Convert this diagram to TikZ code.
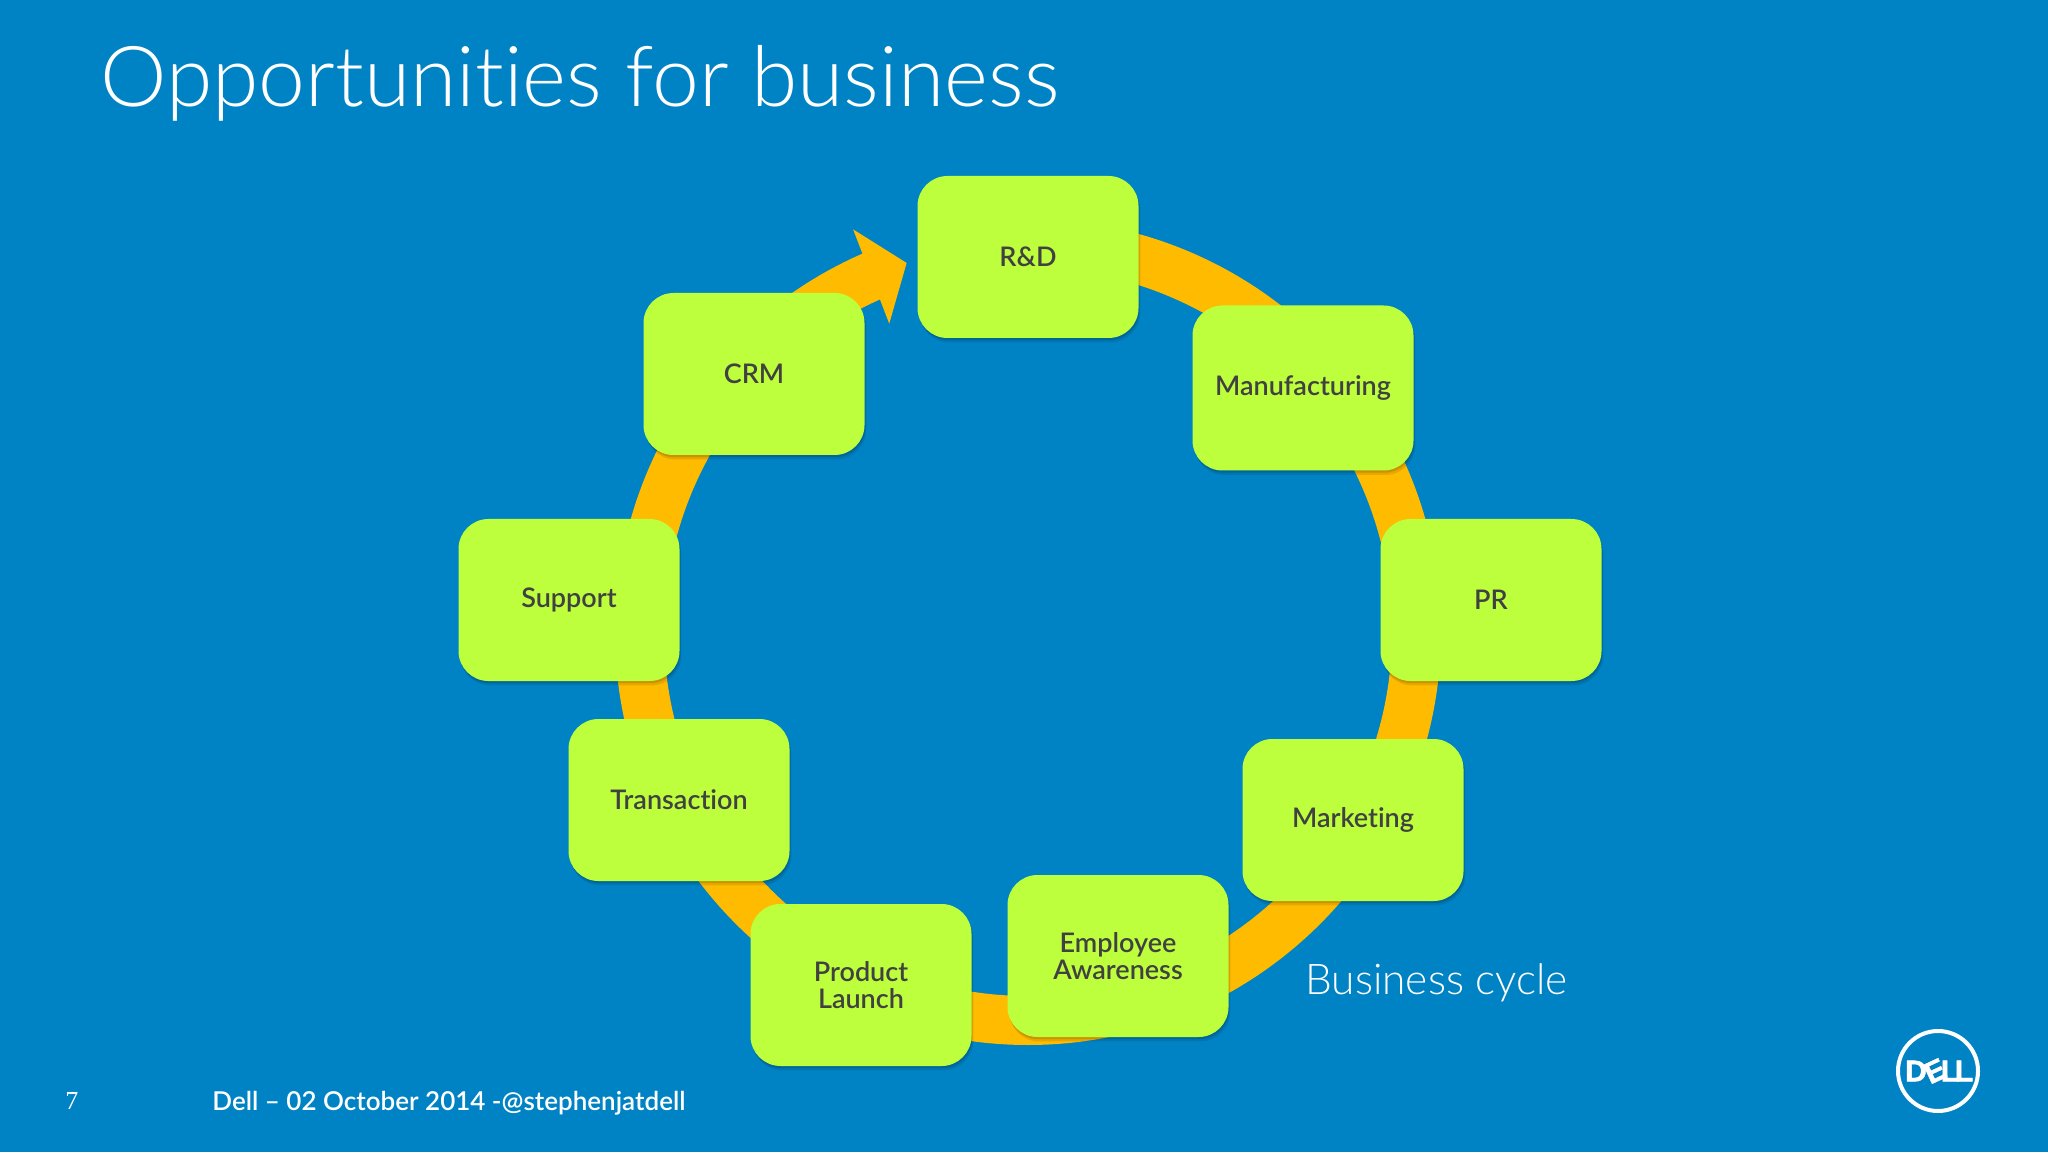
\documentclass[tikz,border=0pt]{standalone}
\usepackage{fontspec}
\setmainfont{Lato}[Ligatures=NoCommon,BoldFont=* Semibold]
\newfontfamily\fonteFine{Lato}[UprightFont=* Light,Ligatures=NoCommon]
\newfontfamily\fonteSerif{Liberation Serif}
\newfontfamily\fonteLogo{Liberation Sans}[UprightFont=* Bold,FakeBold=1.5]
\usetikzlibrary{arrows.meta,bending,shadows,backgrounds}
\definecolor{fond}{HTML}{0083C4}
\definecolor{citron}{HTML}{BDFF3C}
\definecolor{ambre}{HTML}{FFBB00}
\definecolor{encre}{HTML}{414141}
\begin{document}
\begin{tikzpicture}[x=0.5pt,y=0.5pt]
% Styles
\tikzstyle{boite}=[fill=citron,rounded corners=15pt,minimum width=110.5pt,minimum height=81pt,inner sep=0pt,align=center,text=encre,font=\fontsize{13.5}{13.8}\selectfont\bfseries,drop shadow={shadow xshift=0.9pt,shadow yshift=-2.2pt,opacity=0.1,fill=black},drop shadow={shadow xshift=0.4pt,shadow yshift=-1.1pt,opacity=0.12,fill=black}]
\tikzstyle{cycle}=[draw=ambre,line width=24.5pt,-{Triangle[length=19pt,width=49.5pt]}]
\tikzstyle{titre}=[anchor=base west,inner sep=0pt,text=white,font=\fonteFine\fontsize{42}{46}\selectfont]
\tikzstyle{legende}=[anchor=base west,inner sep=0pt,text=white,font=\fonteFine\fontsize{21.2}{24}\selectfont]
\tikzstyle{pied}=[anchor=base west,inner sep=0pt,text=white,font=\fontsize{13}{14}\selectfont\bfseries]
\tikzstyle{logo}=[inner sep=0pt,text=white,font=\fonteLogo\fontsize{15}{15}\selectfont]
% Dimensions
\def\RayonCycle{388.5}
% Fond
\useasboundingbox (0,0) rectangle (2048,1152);
\begin{pgfonlayer}{background}
\fill[fond] (0,0) rectangle (2048,1152);
\end{pgfonlayer}
% Textes
\node[titre] (Titre) at (100,1045) {Opportunities for business};
\node[legende] (Legende) at (1305,158) {Business cycle};
\node[inner sep=0pt,anchor=base west,text=white,font=\fonteSerif\fontsize{13}{14}\selectfont] (Page) at (65,43) {7};
\node[pied] (Pied) at (212,42) {Dell -- 02 October 2014 -@stephenjatdell};
% Cycle
\coordinate (Centre) at (1028,520);
\coordinate (Depart) at (1028,908.5);
% Boites
\node[boite,minimum height=81pt] (RD) at (1028,895) {R\&D};
\node[boite,minimum height=82.5pt] (Manu) at (1303,764) {Manufacturing};
\node[boite] (PR) at (1491,552) {PR};
\node[boite] (Mark) at (1353,332) {Marketing};
\node[boite] (Empl) at (1118,196) {Employee\\Awareness};
\node[boite] (Prod) at (861,167) {Product\\Launch};
\node[boite] (Trans) at (679,352) {Transaction};
\node[boite] (Supp) at (569,552) {Support};
\node[boite] (CRM) at (754,778) {CRM};
\begin{pgfonlayer}{background}
\draw[cycle] (RD.center) -- (Depart) arc[start angle=90,end angle=-251.8,radius=\RayonCycle];
\end{pgfonlayer}
% Logo
\node[circle,draw=white,line width=2pt,minimum size=40pt,inner sep=0pt] (Anneau) at (1938,81) {};
\node[logo] (LogoD) at (1916,81) {D};
\node[logo,rotate=25] (LogoE) at (1935,81) {E};
\node[logo] (LogoL) at (1950,81) {L};
\node[logo] (LogoLL) at (1964,81) {L};
\end{tikzpicture}
\end{document}
